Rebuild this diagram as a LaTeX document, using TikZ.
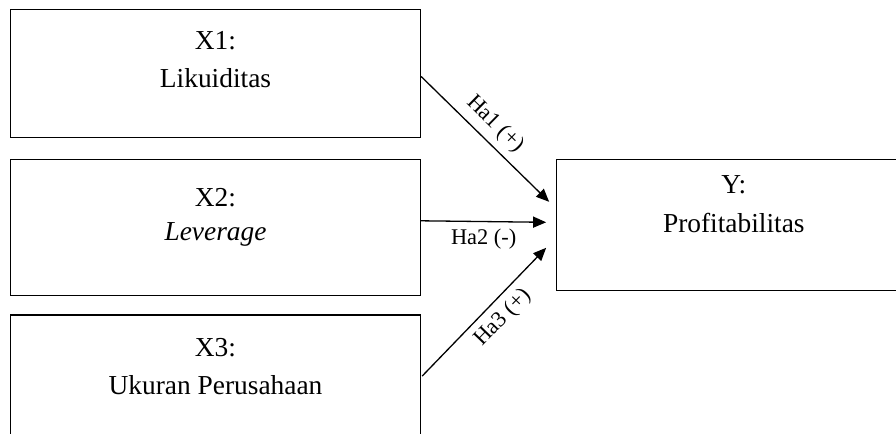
\documentclass[tikz,border=0pt]{standalone}
\usepackage{fontspec}
\setmainfont{Liberation Serif}
\usepackage{tikz}
\usetikzlibrary{arrows.meta,positioning,calc}
\tikzset{
  hp/var/.style={draw, line width=0.65pt, minimum width=205pt, minimum height=64pt, inner sep=0pt},
  hp/dep/.style={hp/var, minimum width=177pt, minimum height=65.5pt},
  hp/text/.style={align=center, inner sep=0pt, font=\fontsize{13.7pt}{18.8pt}\selectfont},
  hp/arr/.style={-{Triangle[length=6.5pt,width=5.5pt]}, line width=0.65pt},
  hp/hyp/.style={font=\fontsize{11.2pt}{13pt}\selectfont, inner sep=3.5pt}
}

\begin{document}
\begin{tikzpicture}[x=0.5pt,y=-0.5pt]
  \useasboundingbox (0,0) rectangle (896,434);
  \clip (0,0) rectangle (896,434);

  % variables
  \node[hp/var] (x1) at (215.5,73.5) {};
  \node[hp/var, below=10.5pt of x1, minimum height=68pt] (x2) {};
  \node[hp/var, below=9pt of x2] (x3) {};
  \node[hp/dep, right=67.5pt of x2, yshift=1.25pt] (y) {};

  \node[hp/text, below=11.25pt of x1.north] (x1t) {X1:\\Likuiditas};
  \node[hp/text, below=14.5pt of x2.north] (x2t) {X2:\\[-1.8pt]\textit{Leverage}};
  \node[hp/text, below=11.75pt of x3.north] (x3t) {X3:\\Ukuran Perusahaan};
  \node[hp/text, below=8pt of y.north] (yt) {Y:\\[0.5pt]Profitabilitas};

  % hypotheses
  \coordinate (h1) at ($(y.west)+(-7,-23.5)$);
  \coordinate (h2) at ($(y.west)+(-10,-3)$);
  \coordinate (h3) at ($(y.west)+(-10,22.5)$);

  \draw[hp/arr] ($(x1.east)+(0,3)$) -- (h1)
    node[hp/hyp, pos=0.48, above, sloped] {Ha1 (+)};
  \draw[hp/arr] ($(x2.east)+(0,-7)$) -- (h2)
    node[hp/hyp, midway, below] {Ha2 (-)};
  \draw[hp/arr] ($(x3.east)+(1,-3)$) -- (h3)
    node[hp/hyp, pos=0.55, below, sloped] {Ha3 (+)};
\end{tikzpicture}
\end{document}
